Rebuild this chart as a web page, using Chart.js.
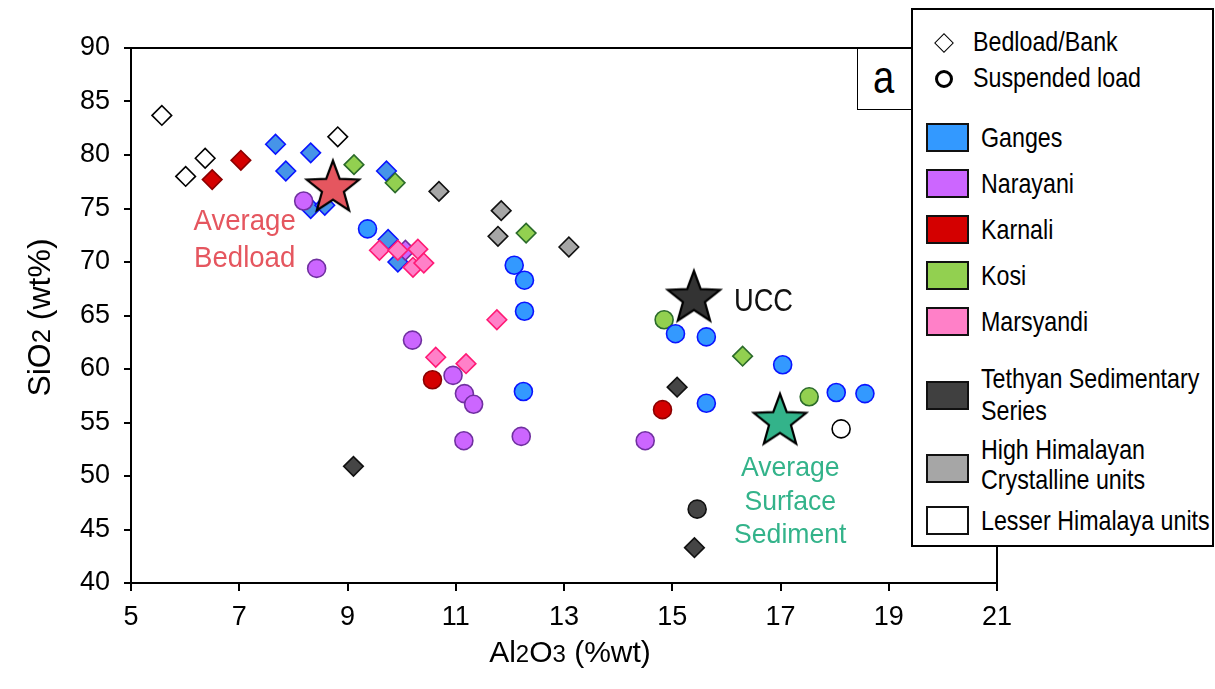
<!DOCTYPE html>
<html>
<head>
<meta charset="utf-8">
<script src="https://cdn.jsdelivr.net/npm/chart.js@4.4.1/dist/chart.umd.min.js"></script>
<style>
  html, body { margin:0; padding:0; background:#fff; }
  #wrap { position:relative; width:1215px; height:689px; overflow:hidden; }
  canvas { position:absolute; left:0; top:0; }
  .lg { position:absolute; font-family:'Liberation Sans',Arial,sans-serif; font-size:28px; line-height:32px; color:#000; white-space:nowrap; transform:scaleX(0.83); transform-origin:0 50%; }
  .sw { position:absolute; left:926px; width:43px; height:29px; box-sizing:border-box; border:2px solid #111; }
</style>
</head>
<body>
<div id="wrap">
  <canvas id="c" width="1215" height="689" style="width:1215px;height:689px"></canvas>
  <div style="position:absolute;left:857px;top:48px;width:56px;height:62px;box-sizing:border-box;border:1.5px solid #000;background:#fff;"></div>
  <div class="lg" style="left:873px;top:48px;height:60px;line-height:58px;font-size:46px;">a</div>
  <div id="legend" style="position:absolute;left:911px;top:8px;width:303px;height:539px;box-sizing:border-box;border:2px solid #000;background:#fff;"></div>
  <div style="position:absolute;left:937px;top:36px;width:14px;height:14px;box-sizing:border-box;border:1.5px solid #000;transform:rotate(45deg);background:#fff;"></div>
  <div class="lg" style="left:973px;top:26px;">Bedload/Bank</div>
  <div style="position:absolute;left:935px;top:70px;width:18px;height:18px;box-sizing:border-box;border:3px solid #000;border-radius:50%;background:#fff;"></div>
  <div class="lg" style="left:973px;top:62px;">Suspended load</div>

  <div class="sw" style="top:123px;background:#3399ff;"></div>
  <div class="lg" style="left:981px;top:122px;">Ganges</div>
  <div class="sw" style="top:169px;background:#cc66ff;"></div>
  <div class="lg" style="left:981px;top:168px;">Narayani</div>
  <div class="sw" style="top:215px;background:#d40000;"></div>
  <div class="lg" style="left:981px;top:214px;">Karnali</div>
  <div class="sw" style="top:261px;background:#92d050;"></div>
  <div class="lg" style="left:981px;top:260px;">Kosi</div>
  <div class="sw" style="top:307px;background:#ff80c8;"></div>
  <div class="lg" style="left:981px;top:306px;">Marsyandi</div>
  <div class="sw" style="top:381px;background:#404040;"></div>
  <div class="lg" style="left:981px;top:363px;">Tethyan Sedimentary</div>
  <div class="lg" style="left:981px;top:395px;">Series</div>
  <div class="sw" style="top:454px;background:#a6a6a6;"></div>
  <div class="lg" style="left:981px;top:434px;">High Himalayan</div>
  <div class="lg" style="left:981px;top:464px;">Crystalline units</div>
  <div class="sw" style="top:506px;background:#ffffff;"></div>
  <div class="lg" style="left:981px;top:505px;">Lesser Himalaya units</div>
</div>
<script>
// ---------------- DATA (Al2O3 %wt, SiO2 wt%) ----------------
const xTicks = [5, 7, 9, 11, 13, 15, 17, 19, 21];
const yTicks = [40, 45, 50, 55, 60, 65, 70, 75, 80, 85, 90];

const gangesBedload = [[7.67,81.0],[8.32,80.2],[7.86,78.5],[9.72,78.5],[8.32,75.0],[8.58,75.3],[9.75,72.1],[9.93,70.0]];
const gangesSuspended = [[9.37,73.1],[12.08,69.7],[12.27,68.3],[12.27,65.4],[12.25,57.9],[15.06,63.3],[15.63,63.0],[15.63,56.8],[17.04,60.4],[18.03,57.8],[18.56,57.7]];
const narayaniBedload = [[10.07,71.1]];
const narayaniSuspended = [[8.19,75.7],[8.43,69.4],[10.20,62.7],[10.95,59.4],[11.16,57.7],[11.33,56.7],[11.15,53.3],[12.21,53.7],[14.50,53.3]];
const karnaliBedload = [[6.50,77.7],[7.03,79.5]];
const karnaliSuspended = [[10.57,59.0],[14.82,56.2]];
const kosiBedload = [[9.12,79.1],[9.88,77.4],[12.30,72.7],[16.30,61.2]];
const kosiSuspended = [[14.85,64.6],[17.53,57.4]];
const marsyandiBedload = [[9.59,71.1],[9.93,71.1],[10.30,71.2],[10.21,69.5],[10.41,69.9],[11.76,64.6],[10.63,61.1],[11.19,60.5]];
const tethyanBedload = [[9.11,50.9],[15.09,58.3],[15.41,43.3]];
const tethyanSuspended = [[15.46,46.9]];
const hhcBedload = [[10.69,76.6],[11.84,74.8],[11.78,72.4],[13.09,71.4]];
const lesserBedload = [[5.57,83.7],[6.01,78.0],[6.37,79.7],[8.82,81.7]];
const lesserSuspended = [[18.12,54.4]];
const averageBedload = [[8.73,76.9]];
const ucc = [[15.4,66.6]];
const averageSurface = [[16.99,55.1]];

// ---------------- STYLES ----------------
const REG = "'Liberation Sans',Arial,sans-serif";

function toPts(arr){ return arr.map(p => ({x:p[0], y:p[1]})); }

function makeStar(fill){
  const c = document.createElement('canvas');
  c.width = 64; c.height = 64;
  const g = c.getContext('2d');
  const R = 27.5, r = 11.5, cx = 32, cy = 32;
  g.beginPath();
  for (let i = 0; i < 10; i++){
    const rad = (i % 2 === 0) ? R : r;
    const a = -Math.PI/2 + i * Math.PI/5;
    const px = cx + rad*Math.cos(a), py = cy + rad*Math.sin(a);
    if (i === 0) g.moveTo(px, py); else g.lineTo(px, py);
  }
  g.closePath();
  g.fillStyle = fill; g.fill();
  g.lineWidth = 2.2; g.strokeStyle = '#000'; g.lineJoin = 'miter'; g.stroke();
  return c;
}

function bed(label, data, fill, border){
  return {label, data: toPts(data), pointStyle:'rectRot', pointRadius:9.8, pointBackgroundColor:fill, pointBorderColor:border, pointBorderWidth:1.6, showLine:false};
}
function sus(label, data, fill, border){
  return {label, data: toPts(data), pointStyle:'circle', pointRadius:9, pointBackgroundColor:fill, pointBorderColor:border, pointBorderWidth:1.6, showLine:false};
}
function star(label, data, fill){
  return {label, data: toPts(data), pointStyle: makeStar(fill), pointRadius:27, showLine:false};
}

const datasets = [
  star('Average Bedload', averageBedload, '#e5565f'),
  star('UCC', ucc, '#333333'),
  star('Average Surface Sediment', averageSurface, '#33b38a'),
  bed('Marsyandi bedload', marsyandiBedload, '#ff80c8', '#ff1a75'),
  sus('Narayani suspended', narayaniSuspended, '#cc66ff', '#7030a0'),
  bed('Narayani bedload', narayaniBedload, '#cc66ff', '#7030a0'),
  sus('Ganges suspended', gangesSuspended, '#3399ff', '#0a14ff'),
  sus('Kosi suspended', kosiSuspended, '#92d050', '#2b6b2b'),
  bed('Kosi bedload', kosiBedload, '#92d050', '#2b6b2b'),
  bed('Ganges bedload', gangesBedload, '#4694e8', '#0a14ff'),
  bed('Karnali bedload', karnaliBedload, '#d40000', '#8b0000'),
  sus('Karnali suspended', karnaliSuspended, '#d40000', '#8b0000'),
  bed('Tethyan bedload', tethyanBedload, '#454545', '#111111'),
  sus('Tethyan suspended', tethyanSuspended, '#454545', '#111111'),
  bed('HHC bedload', hhcBedload, '#a6a6a6', '#111111'),
  bed('Lesser bedload', lesserBedload, '#ffffff', '#000000'),
  sus('Lesser suspended', lesserSuspended, '#ffffff', '#000000')
];

const annotations = [
  {lines:['Average','Bedload'], x:7.1, y:73.0, color:'#e5565f', size:30, gap:37, align:'center', sx:0.92},
  {lines:['UCC'], x:16.14, y:65.42, color:'#111111', size:31, gap:0, align:'left', sx:0.88},
  {lines:['Average','Surface','Sediment'], x:17.18, y:50.0, color:'#33b38a', size:28, gap:33.5, align:'center', sx:0.95}
];

function drawRich(ctx, parts, size, family){
  let w = 0;
  parts.forEach(p => { ctx.font = (size*p[1]) + 'px ' + family; w += ctx.measureText(p[0]).width; });
  let x = -w/2;
  parts.forEach(p => { ctx.font = (size*p[1]) + 'px ' + family; ctx.fillText(p[0], x, 0); x += ctx.measureText(p[0]).width; });
}

const extras = {
  id:'extras',
  afterDraw(chart){
    const {ctx, chartArea:a, scales:{x, y}} = chart;
    ctx.save();
    // frame top & right
    ctx.strokeStyle = '#000'; ctx.lineWidth = 2;
    ctx.beginPath();
    ctx.moveTo(a.left, a.top); ctx.lineTo(a.right, a.top); ctx.lineTo(a.right, a.bottom);
    ctx.stroke();
    // annotations
    annotations.forEach(an => {
      ctx.font = an.size + 'px ' + REG;
      ctx.fillStyle = an.color; ctx.textAlign = an.align; ctx.textBaseline = 'alphabetic';
      const px = x.getPixelForValue(an.x), py = y.getPixelForValue(an.y);
      an.lines.forEach((t, i) => {
        ctx.save();
        ctx.translate(px, py + i*an.gap);
        ctx.scale(an.sx, 1);
        ctx.fillText(t, 0, 0);
        ctx.restore();
      });
    });
    // axis titles
    ctx.fillStyle = '#000'; ctx.textAlign = 'left'; ctx.textBaseline = 'alphabetic';
    ctx.save();
    ctx.translate((a.left + a.right)/2 + 6, 662);
    drawRich(ctx, [['Al',1],['2',0.8],['O',1],['3',0.8],[' (%wt)',1]], 30, REG);
    ctx.restore();
    ctx.save();
    ctx.translate(50, (a.top + a.bottom)/2 + 2);
    ctx.rotate(-Math.PI/2);
    drawRich(ctx, [['SiO',1],['2',0.8],[' (wt%)',1]], 32, REG);
    ctx.restore();
    ctx.restore();
  }
};

new Chart(document.getElementById('c'), {
  type:'scatter',
  data:{datasets},
  options:{
    responsive:false, animation:false, devicePixelRatio:1,
    layout:{padding:{top:48, right:218, left:0, bottom:0}},
    plugins:{legend:{display:false}, tooltip:{enabled:false}},
    scales:{
      x:{type:'linear', min:5, max:21,
         afterBuildTicks: s => { s.ticks = xTicks.map(v => ({value:v})); },
         ticks:{font:{family:REG, size:27}, color:'#000', padding:10, maxRotation:0},
         grid:{drawOnChartArea:false, drawTicks:true, tickLength:8, color:'#000', lineWidth:2},
         border:{display:true, color:'#000', width:2},
         afterFit: s => { s.height = 106; }},
      y:{type:'linear', min:40, max:90,
         afterBuildTicks: s => { s.ticks = yTicks.map(v => ({value:v})); },
         ticks:{font:{family:REG, size:27}, color:'#000', padding:14},
         grid:{drawOnChartArea:false, drawTicks:true, tickLength:7, color:'#000', lineWidth:2},
         border:{display:true, color:'#000', width:2},
         afterFit: s => { s.width = 131; }}
    }
  },
  plugins:[extras]
});
</script>
</body>
</html>
